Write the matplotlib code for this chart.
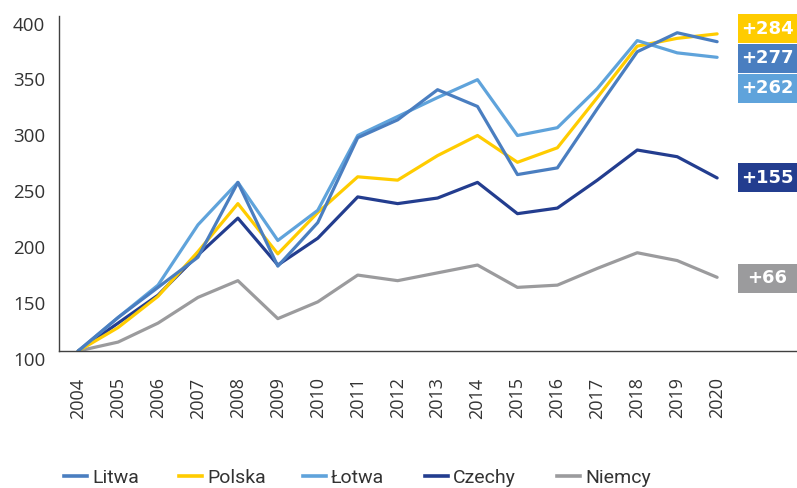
import matplotlib
matplotlib.use("Agg")
import matplotlib.pyplot as plt
from matplotlib.patches import Rectangle
from matplotlib.lines import Line2D
from matplotlib.transforms import ScaledTranslation

years = list(range(2004, 2021))
litwa = [100, 130, 157, 184, 251, 176, 215, 291, 307, 334, 319, 258, 264, 317, 368, 385, 377]
polska = [100, 121, 149, 189, 232, 187, 224, 256, 253, 275, 293, 269, 282, 327, 373, 380, 384]
lotwa = [100, 130, 159, 213, 251, 199, 226, 293, 310, 327, 343, 293, 300, 335, 378, 367, 363]
czechy = [100, 125, 150, 186, 219, 177, 201, 238, 232, 237, 251, 223, 228, 253, 280, 274, 255]
niemcy = [100, 108, 125, 148, 163, 129, 144, 168, 163, 170, 177, 157, 159, 174, 188, 181, 166]

series_names = ["Litwa", "Polska", "Łotwa", "Czechy", "Niemcy"]
colors = ["#4A7EC0", "#FFCC00", "#5FA3DB", "#233D8F", "#9B9B9D"]
end_labels = ["+277", "+284", "+262", "+155", "+66"]
label_y = [362, 388.7, 335.5, 255, 165]   # layout positions of the end boxes

W, H = 797, 488
fig = plt.figure(figsize=(W / 100, H / 100), dpi=100)
ax = fig.add_axes([0.074, 0.2807, 0.926, 0.6865])

data = [litwa, polska, lotwa, czechy, niemcy]
lines = {}
for i in [4, 3, 1, 2, 0]:
    ln, = ax.plot(years, data[i], color=colors[i], lw=2.3, label=series_names[i],
                  solid_capstyle="round", solid_joinstyle="round")
    lines[i] = ln

ax.set_xlim(2003.52, 2022.0)
ax.set_ylim(100, 400)
ax.set_yticks([100, 150, 200, 250, 300, 350, 400])
ax.set_xticks(years)
ax.set_xticklabels([str(y) for y in years], rotation=90)

for s in ["top", "right"]:
    ax.spines[s].set_visible(False)
for s in ["left", "bottom"]:
    ax.spines[s].set_color("#404040")
    ax.spines[s].set_linewidth(1.0)

ax.tick_params(axis="both", length=0, labelcolor="#333333")
ax.tick_params(axis="y", labelsize=13.5, pad=10)
ax.tick_params(axis="x", labelsize=13, pad=19)
offset = ScaledTranslation(0, -5.5 / 72, fig.dpi_scale_trans)
for lab in ax.get_yticklabels():
    lab.set_fontfamily("Open Sans")
    lab.set_transform(lab.get_transform() + offset)
for lab in ax.get_xticklabels():
    lab.set_fontfamily("Open Sans")

# End boxes
box_w = 1.477
box_h = 26.0
x0 = 2020.52
for i in range(5):
    yc = label_y[i]
    r = Rectangle((x0, yc - box_h / 2), box_w, box_h, facecolor=colors[i],
                  edgecolor="none", clip_on=False, transform=ax.transData)
    ax.add_patch(r)
    ax.text(x0 + box_w / 2, yc, end_labels[i], color="white", fontsize=13,
            fontweight="bold", ha="center", va="center", clip_on=False,
            fontfamily="DejaVu Sans")

# Legend (manual, positioned like the reference)
legend_x = [64, 179, 303, 425, 557]   # pixel positions of legend handles
handle_y = 1 - 476 / H
text_base = 1 - 483 / H
for i in range(5):
    hx = legend_x[i] / W
    fig.add_artist(Line2D([hx, hx + 23 / W], [handle_y, handle_y], color=colors[i],
                          lw=2.6, transform=fig.transFigure))
    fig.text(hx + 28 / W, text_base, series_names[i], color="#333333", fontsize=14,
             fontfamily="Roboto", ha="left", va="baseline")

fig.savefig("out.png", dpi=100)
